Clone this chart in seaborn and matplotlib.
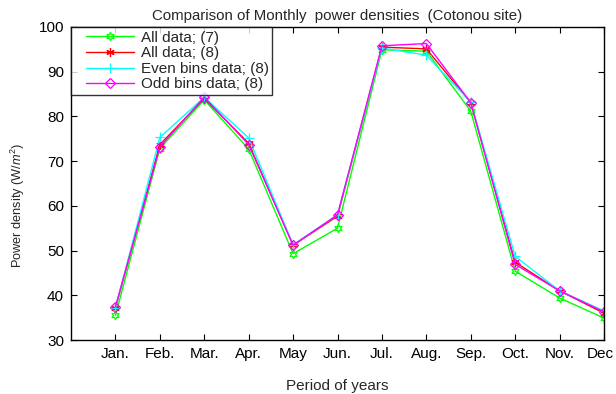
import matplotlib
matplotlib.use("Agg")
import matplotlib.pyplot as plt
import matplotlib.transforms as mtransforms
from matplotlib.legend_handler import HandlerLine2D
from matplotlib.lines import Line2D
import seaborn as sns
import pandas as pd

months = ["Jan.", "Feb.", "Mar.", "Apr.", "May", "Jun.", "Jul.", "Aug.",
          "Sep.", "Oct.", "Nov.", "Dec"]
month_pos = list(range(1, 13))

all_data_7 = [35.5, 72.8, 83.7, 72.7, 49.3, 55.0, 94.9, 94.6, 81.2, 45.4, 39.4, 34.9]
all_data_8 = [37.1, 73.7, 84.0, 74.0, 51.2, 57.7, 95.5, 95.1, 83.1, 47.4, 41.0, 36.0]
even_bins_8 = [37.1, 75.3, 84.3, 75.2, 51.3, 58.0, 95.3, 93.7, 83.2, 48.7, 41.0, 36.5]
odd_bins_8 = [37.4, 73.2, 84.3, 73.7, 51.2, 58.0, 95.8, 96.3, 83.1, 46.9, 41.0, 36.3]

series_labels = ["All data; (7)", "All data; (8)", "Even bins data; (8)", "Odd bins data; (8)"]

sns.set_style("white")
plt.rcParams["font.family"] = ["Liberation Sans", "DejaVu Sans"]
plt.rcParams["mathtext.fontset"] = "custom"
plt.rcParams["mathtext.it"] = "Liberation Sans:italic"
plt.rcParams["mathtext.rm"] = "Liberation Sans"

fig = plt.figure(figsize=(6.16, 3.94), dpi=100)
ax = fig.add_axes([71 / 616, 54 / 394, 533 / 616, 313 / 394])

styles = [
    dict(color="#00ff00", marker=(6, 1, 0), ms=6),
    dict(color="#ff0000", marker=(6, 2, 0), ms=6),
    dict(color="#00ffff", marker="+", ms=7),
    dict(color="#ff00ff", marker="D", ms=5.5),
]

for vals, lab, st in zip([all_data_7, all_data_8, even_bins_8, odd_bins_8], series_labels, styles):
    df = pd.DataFrame({"month": month_pos, "value": vals})
    sns.lineplot(data=df, x="month", y="value", ax=ax, label=lab,
                 color=st["color"], marker=st["marker"], markersize=st["ms"],
                 markerfacecolor="none", markeredgecolor=st["color"],
                 markeredgewidth=0.9, linewidth=1.0)

ax.set_xlim(0, 12)
ax.set_ylim(30, 100)
ax.set_xticks(month_pos)
ax.set_xticklabels(months)
ax.set_yticks(range(30, 101, 10))
ax.tick_params(direction="in", length=4, width=0.8, labelsize=11, pad=5,
               top=True, right=True, bottom=True, left=True, colors="black")
for sp in ax.spines.values():
    sp.set_visible(True)
    sp.set_color("black")
    sp.set_linewidth(1.0)

# nudge the last month label so it stays inside the figure
last_lbl = ax.get_xticklabels()[-1]
last_lbl.set_transform(last_lbl.get_transform()
                       + mtransforms.ScaledTranslation(-2.5 / 72, 0, fig.dpi_scale_trans))

ax.set_title("Comparison of Monthly  power densities  (Cotonou site)", fontsize=10.8, pad=5)
ax.set_xlabel("Period of years", fontsize=11, labelpad=13)
ax.set_ylabel("Power density (W/$m^2$)", fontsize=9.2)
ax.yaxis.set_label_coords(-0.083, 0.43)

leg = ax.legend(loc="upper left", fontsize=11, frameon=True, fancybox=False,
                borderaxespad=0.0, handlelength=3.9, labelspacing=0.1,
                borderpad=0.25, handletextpad=0.4,
                handler_map={Line2D: HandlerLine2D(xpad=0.7)})
leg.get_frame().set_edgecolor("black")
leg.get_frame().set_linewidth(1.0)

fig.savefig("out.png", dpi=100)
